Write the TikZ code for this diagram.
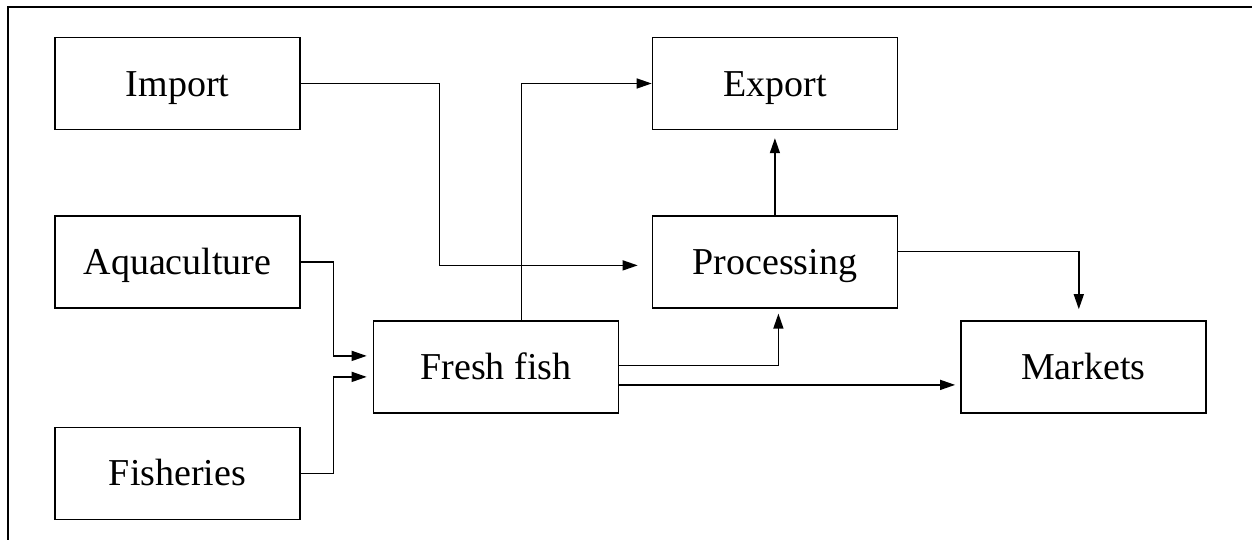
\documentclass[tikz,border=0pt]{standalone}
\usepackage{fontspec}
\setmainfont{Liberation Serif}
\usepackage{tikz}
\usetikzlibrary{arrows.meta,positioning,calc}

\begin{document}
\begin{tikzpicture}[
  x=0.5pt,y=0.5pt,
  sbox/.style={rectangle,draw,line width=0.7pt,minimum width=122.5pt,minimum height=46pt,inner sep=0pt,text height=12.6pt,text depth=0pt,font=\fontsize{19}{22}\selectfont},
  arrow/.style={-{Triangle[length=7.5pt,width=5pt]},line width=0.7pt}
]
  \useasboundingbox (0,0) rectangle (1252,540);
  % frame
  \draw[line width=0.7pt] (8,0) -- (8,533) -- (1252,533);

  % Sources
  \node[sbox] at (177.5,456.5) (import) {Import};
  \node[sbox,below=42.5pt of import] (aqua) {Aquaculture};
  \node[sbox,below=59pt of aqua] (fisheries) {Fisheries};

  % Fresh fish
  \node[sbox,right=36pt of aqua,yshift=-52.5pt] (fresh) {Fresh fish};

  % Outputs
  \node[sbox,right=175.5pt of import] (export) {Export};
  \node[sbox,below=42.5pt of export] (proc) {Processing};
  \node[sbox,right=170.5pt of fresh] (markets) {Markets};

  % Arrows
  \draw[arrow,shorten >=7pt] (import.east) -- ++(139,0) |- ([yshift=-1.75pt]proc.west);
  \draw[arrow] ([xshift=12.75pt]fresh.north) |- (export.west);
  \draw[arrow,shorten >=3pt] (aqua.east) -- ++(33,0) |- ([yshift=5.5pt]fresh.west);
  \draw[arrow,shorten >=3pt] (fisheries.east) -- ++(33,0) |- ([yshift=-5pt]fresh.west);
  \draw[arrow,shorten >=2.5pt] ([yshift=0.75pt]fresh.east) -| ([xshift=1.75pt]proc.south);
  \draw[arrow,shorten >=2.5pt] ([yshift=-9pt]fresh.east) -- ([yshift=-9pt]markets.west);
  \draw[arrow,shorten >=4pt] (proc) -- (export);
  \draw[arrow,shorten >=5.5pt] ([yshift=5.25pt]proc.east) -| ([xshift=-2.25pt]markets.north);
\end{tikzpicture}
\end{document}
